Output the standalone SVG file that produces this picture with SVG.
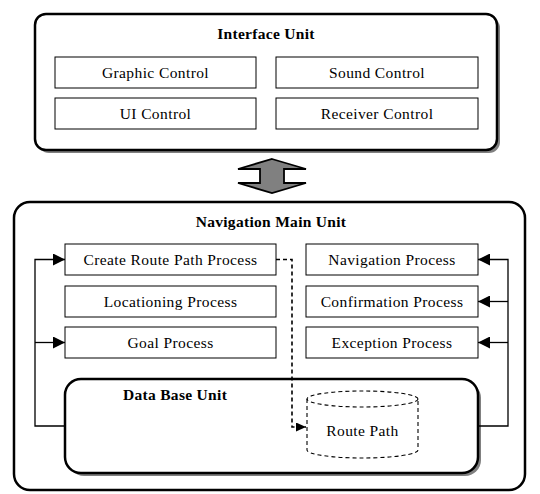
<svg xmlns="http://www.w3.org/2000/svg" width="540" height="494" viewBox="0 0 540 494">
  <defs>
    <style>
      .unit { fill: #ffffff; stroke: #000000; stroke-width: 2.5; }
      .shadow { fill: #808080; }
      .box { fill: #ffffff; stroke: #000000; stroke-width: 1; }
      .label { font-family: "Liberation Serif", "Times New Roman", "DejaVu Serif", serif; font-size: 15.5px; letter-spacing: 0.4px; fill: #000000; text-anchor: middle; }
      .title { font-family: "Liberation Serif", "Times New Roman", "DejaVu Serif", serif; font-size: 15.5px; font-weight: bold; letter-spacing: 0.3px; fill: #000000; }
      .link { fill: none; stroke: #000000; stroke-width: 1.3; }
      .dash { fill: none; stroke: #000000; stroke-width: 1.6; stroke-dasharray: 4 3; }
    </style>
    <marker id="head" viewBox="0 0 12 12" refX="12" refY="6" markerWidth="12" markerHeight="12" markerUnits="userSpaceOnUse" orient="auto">
      <path d="M0,0 L12,6 L0,12 Z" fill="#000000"/>
    </marker>
    <marker id="headSmall" viewBox="0 0 10 9" refX="10" refY="4.5" markerWidth="10" markerHeight="9" markerUnits="userSpaceOnUse" orient="auto">
      <path d="M0,0 L10,4.5 L0,9 Z" fill="#000000"/>
    </marker>
  </defs>

  <!-- Interface Unit -->
  <g id="interface-unit">
    <rect class="shadow" x="38" y="17" width="462" height="136" rx="11"/>
    <rect class="unit" x="35" y="14" width="462" height="136" rx="11"/>
    <text class="title" x="266" y="39" text-anchor="middle">Interface Unit</text>
  </g>
  <g id="graphic-control">
    <rect class="box" x="55" y="57" width="201" height="31"/>
    <text class="label" x="155.5" y="78">Graphic Control</text>
  </g>
  <g id="sound-control">
    <rect class="box" x="276" y="57" width="202" height="31"/>
    <text class="label" x="377" y="78">Sound Control</text>
  </g>
  <g id="ui-control">
    <rect class="box" x="55" y="98" width="201" height="31"/>
    <text class="label" x="155.5" y="119">UI Control</text>
  </g>
  <g id="receiver-control">
    <rect class="box" x="276" y="98" width="202" height="31"/>
    <text class="label" x="377" y="119">Receiver Control</text>
  </g>

  <!-- Navigation Main Unit -->
  <g id="navigation-main-unit">
    <rect class="unit" x="14" y="202" width="511" height="288" rx="16"/>
    <text class="title" x="271" y="227" text-anchor="middle">Navigation Main Unit</text>
  </g>
  <g id="create-route-path-process">
    <rect class="box" x="65" y="244" width="211" height="31"/>
    <text class="label" x="170.5" y="265">Create Route Path Process</text>
  </g>
  <g id="locationing-process">
    <rect class="box" x="65" y="286" width="211" height="31"/>
    <text class="label" x="170.5" y="307">Locationing Process</text>
  </g>
  <g id="goal-process">
    <rect class="box" x="65" y="327" width="211" height="31"/>
    <text class="label" x="170.5" y="348">Goal Process</text>
  </g>
  <g id="navigation-process">
    <rect class="box" x="306" y="244" width="172" height="31"/>
    <text class="label" x="392" y="265">Navigation Process</text>
  </g>
  <g id="confirmation-process">
    <rect class="box" x="306" y="286" width="172" height="31"/>
    <text class="label" x="392" y="307">Confirmation Process</text>
  </g>
  <g id="exception-process">
    <rect class="box" x="306" y="327" width="172" height="31"/>
    <text class="label" x="392" y="348">Exception Process</text>
  </g>

  <!-- Data Base Unit -->
  <g id="data-base-unit">
    <rect class="shadow" x="68" y="382" width="413" height="94" rx="16"/>
    <rect class="unit" x="65" y="379" width="413" height="94" rx="16"/>
    <text class="title" x="123" y="400">Data Base Unit</text>
  </g>
  <g id="route-path">
    <path class="dash" style="stroke-width:1.1" d="M307,399 V450 A55.5,8 0 0 0 418,450 V399"/>
    <ellipse class="dash" style="stroke-width:1.1" cx="362.5" cy="399" rx="55.5" ry="8"/>
    <text class="label" x="362.5" y="436">Route Path</text>
  </g>

  <!-- Connectors -->
  <g id="connectors">
    <!-- bidirectional link between the two units -->
    <polygon points="272,159 306,169 284,169 284,183 306,183 272,193 238,183 260,183 260,169 238,169" fill="#808080" stroke="#000000" stroke-width="1.8" stroke-linejoin="miter"/>
    <!-- left feed from Data Base Unit -->
    <path class="link" d="M65,426 H35 V259.5 H65" marker-end="url(#head)"/>
    <path class="link" d="M35,342.5 H65" marker-end="url(#head)"/>
    <!-- right feed from Data Base Unit -->
    <path class="link" d="M478,426 H508 V259.5 H478" marker-end="url(#head)"/>
    <path class="link" d="M508,301.5 H478" marker-end="url(#head)"/>
    <path class="link" d="M508,342.5 H478" marker-end="url(#head)"/>
    <!-- route path creation -->
    <path class="dash" d="M276,259.5 H292 V427 H306" marker-end="url(#headSmall)"/>
  </g>
</svg>
